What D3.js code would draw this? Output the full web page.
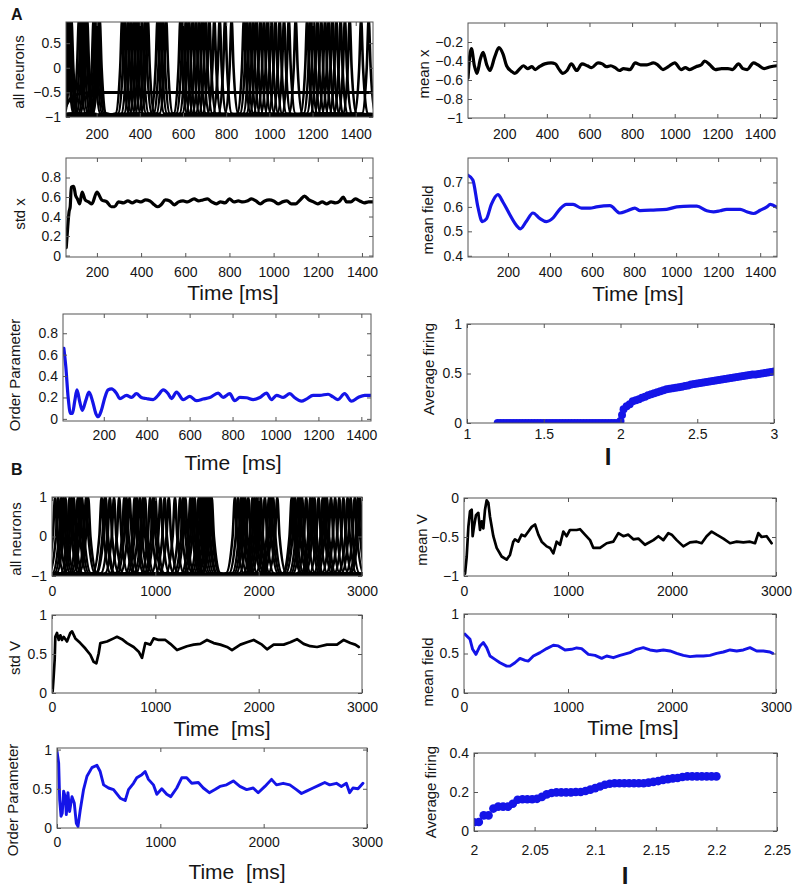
<!DOCTYPE html>
<html><head><meta charset="utf-8">
<script src="https://cdn.jsdelivr.net/npm/d3@7"></script>
<style>
body{margin:0;background:#fff;}
svg text{font-family:"Liberation Sans",Arial,Helvetica,sans-serif;fill:#151515;}
.tick text{font-size:14px;}
.ylab{font-size:15px;}
.xlab{font-size:21px;}
.ilab{font-size:24px;font-weight:bold;}
.plab{font-size:16px;font-weight:bold;}
</style></head><body>
<svg id="fig" width="798" height="890"></svg>
<script>
// ---------------- DATA ----------------
// Panel A: spike (peak) times of individual neurons, ms
const allNeuronsA = [
  [62, 318, 588, 882, 1175],
  [68, 330, 600, 895, 1190],
  [76, 345, 615, 910, 1205],
  [83, 358, 628, 925, 1222],
  [118, 372, 645, 940, 1240],
  [128, 385, 660, 958, 1258],
  [138, 398, 675, 975, 1275],
  [148, 410, 690, 992, 1292],
  [156, 425, 705, 1010, 1310],
  [186, 437, 722, 1028, 1330],
  [195, 482, 745, 1048, 1350],
  [203, 495, 770, 1068, 1372],
  [210, 508, 795, 1090, 1425],
  [214, 522, 825, 1122, 1460]
];
const restingA_t = [58, 70, 80, 100, 130, 200, 1480];
const restingA_v = [-0.78, -0.68, -0.62, -0.56, -0.52, -0.5, -0.5];

const meanXA_t = [30,38,46,60,72,88,101,118,133,155,175,195,211,235,250,270,290,310,330,345,365,390,420,440,455,475,495,515,540,565,590,610,640,660,680,700,720,740,760,790,815,840,870,900,920,945,970,1000,1030,1050,1070,1100,1125,1140,1165,1190,1220,1250,1270,1300,1320,1340,1370,1390,1420,1450,1480];
const meanXA_v = [-0.58,-0.35,-0.27,-0.45,-0.53,-0.38,-0.31,-0.44,-0.5,-0.36,-0.26,-0.33,-0.45,-0.51,-0.53,-0.49,-0.45,-0.48,-0.46,-0.49,-0.46,-0.43,-0.42,-0.43,-0.48,-0.53,-0.5,-0.43,-0.5,-0.43,-0.45,-0.47,-0.42,-0.43,-0.46,-0.45,-0.47,-0.5,-0.48,-0.49,-0.42,-0.44,-0.44,-0.42,-0.44,-0.49,-0.46,-0.42,-0.49,-0.47,-0.49,-0.46,-0.44,-0.4,-0.44,-0.49,-0.48,-0.48,-0.49,-0.43,-0.48,-0.49,-0.42,-0.44,-0.48,-0.46,-0.45];

const stdXA_t = [61,68,74,79,84,95,103,112,122,133,147,162,177,200,222,245,265,280,298,320,340,360,380,400,420,440,460,475,490,510,530,550,570,590,610,640,660,680,700,720,740,760,780,800,820,840,860,880,900,920,940,960,980,1000,1020,1040,1060,1080,1100,1120,1140,1160,1180,1200,1220,1240,1260,1280,1300,1315,1330,1350,1370,1390,1410,1430,1450];
const stdXA_v = [0.08,0.3,0.45,0.5,0.7,0.71,0.62,0.58,0.53,0.65,0.57,0.55,0.53,0.65,0.57,0.55,0.5,0.5,0.55,0.54,0.56,0.54,0.56,0.55,0.57,0.56,0.52,0.5,0.52,0.57,0.56,0.52,0.55,0.56,0.55,0.58,0.56,0.57,0.58,0.55,0.53,0.55,0.54,0.58,0.55,0.56,0.55,0.56,0.58,0.56,0.53,0.56,0.57,0.56,0.53,0.55,0.56,0.53,0.53,0.57,0.61,0.57,0.55,0.53,0.55,0.53,0.55,0.54,0.56,0.6,0.55,0.55,0.58,0.56,0.54,0.55,0.55];

const meanFieldA_t = [9,33,57,78,97,121,152,176,208,240,259,287,319,351,383,415,446,478,510,550,590,621,685,733,765,804,828,892,955,1003,1067,1099,1146,1178,1209,1241,1305,1336,1368,1400,1432,1448,1480];
const meanFieldA_v = [0.73,0.71,0.6,0.54,0.55,0.61,0.65,0.62,0.57,0.525,0.51,0.54,0.575,0.553,0.54,0.555,0.59,0.61,0.61,0.595,0.595,0.6,0.605,0.575,0.583,0.595,0.585,0.587,0.59,0.6,0.603,0.603,0.584,0.58,0.584,0.59,0.59,0.58,0.573,0.586,0.6,0.61,0.598];

const orderA_t = [14,23,34,45,54,65,75,88,100,116,131,147,163,174,189,205,220,236,259,275,306,329,352,375,398,430,453,477,500,516,539,570,601,632,663,694,733,756,787,810,834,865,896,927,958,981,1005,1036,1067,1090,1121,1144,1175,1206,1245,1268,1291,1322,1354,1385,1416,1442];
const orderA_v = [0.66,0.49,0.2,0.05,0.05,0.17,0.27,0.16,0.08,0.17,0.25,0.17,0.05,0.02,0.08,0.2,0.27,0.28,0.24,0.19,0.22,0.2,0.235,0.2,0.19,0.18,0.22,0.27,0.235,0.19,0.25,0.18,0.21,0.17,0.185,0.2,0.24,0.2,0.235,0.17,0.2,0.197,0.18,0.2,0.24,0.18,0.22,0.2,0.235,0.197,0.165,0.185,0.22,0.22,0.23,0.205,0.18,0.235,0.165,0.2,0.22,0.22];

const firingA_I = [1.2,1.22,1.24,1.26,1.28,1.3,1.32,1.34,1.36,1.38,1.4,1.42,1.44,1.46,1.48,1.5,1.52,1.54,1.56,1.58,1.6,1.62,1.64,1.66,1.68,1.7,1.72,1.74,1.76,1.78,1.8,1.82,1.84,1.86,1.88,1.9,1.92,1.94,1.96,1.98,
  2.0,2.01,2.02,2.04,2.06,2.08,2.1,2.12,2.14,2.16,2.18,2.2,2.22,2.24,2.26,2.28,2.3,2.32,2.34,2.36,2.38,2.4,2.42,2.44,2.46,2.48,2.5,2.52,2.54,2.56,2.58,2.6,2.62,2.64,2.66,2.68,2.7,2.72,2.74,2.76,2.78,2.8,2.82,2.84,2.86,2.88,2.9,2.92,2.94,2.96,2.98,3.0];
const firingA_r = [0,0,0,0,0,0,0,0,0,0,0,0,0,0,0,0,0,0,0,0,0,0,0,0,0,0,0,0,0,0,0,0,0,0,0,0,0,0,0,0,
  0.02,0.08,0.14,0.17,0.19,0.22,0.23,0.24,0.255,0.265,0.28,0.29,0.3,0.31,0.32,0.33,0.34,0.345,0.35,0.355,0.36,0.365,0.375,0.38,0.39,0.395,0.4,0.405,0.41,0.415,0.42,0.425,0.43,0.435,0.44,0.445,0.45,0.455,0.46,0.465,0.47,0.475,0.48,0.485,0.49,0.49,0.495,0.5,0.505,0.51,0.515,0.52];

// Panel B: spike (peak) times of individual neurons, ms
const allNeuronsB = [
  [30, 560, 1130, 1770, 2320, 2890],
  [60, 600, 1190, 1800, 2350, 2930],
  [90, 650, 1240, 1830, 2380, 2960],
  [130, 700, 1290, 1870, 2420],
  [170, 750, 1340, 1900, 2460],
  [210, 800, 1380, 1940, 2500],
  [250, 850, 1420, 1980, 2540],
  [290, 900, 1460, 2020, 2580],
  [330, 950, 1500, 2060, 2620],
  [480, 1000, 1530, 2100, 2660],
  [520, 1050, 1545, 2140, 2700],
  [350, 980, 1480, 2180, 2740],
  [110, 720, 1270, 1850, 2400, 2780],
  [190, 820, 1360, 1960, 2330, 2820],
  [510, 1090, 1510, 2120, 2520, 2860],
  [270, 880, 1440, 2000, 2640, 2980]
];

const meanVB_t = [10,26,42,58,74,83,96,115,138,154,170,186,202,218,234,250,282,314,362,410,442,474,490,522,554,586,619,651,683,715,747,795,827,859,891,923,955,987,1019,1083,1115,1163,1212,1244,1308,1372,1436,1484,1532,1580,1628,1676,1740,1821,1869,1917,1965,1997,2045,2109,2173,2237,2285,2333,2381,2429,2494,2558,2622,2686,2750,2798,2830,2862,2910,2958];
const meanVB_v = [-0.97,-0.75,-0.37,-0.17,-0.15,-0.49,-0.37,-0.22,-0.19,-0.41,-0.3,-0.39,-0.15,-0.03,-0.06,-0.24,-0.49,-0.64,-0.75,-0.79,-0.73,-0.56,-0.53,-0.56,-0.47,-0.49,-0.43,-0.37,-0.34,-0.47,-0.56,-0.62,-0.64,-0.71,-0.56,-0.6,-0.43,-0.49,-0.41,-0.41,-0.4,-0.47,-0.54,-0.64,-0.64,-0.58,-0.56,-0.45,-0.49,-0.47,-0.53,-0.52,-0.6,-0.54,-0.49,-0.54,-0.45,-0.47,-0.54,-0.62,-0.57,-0.56,-0.58,-0.49,-0.43,-0.47,-0.52,-0.58,-0.56,-0.57,-0.56,-0.58,-0.45,-0.5,-0.49,-0.58];

const stdVB_t = [6,16,26,32,48,65,81,97,113,145,177,194,226,274,323,371,403,429,452,468,532,597,629,677,726,790,839,871,903,952,984,1032,1097,1145,1210,1306,1371,1435,1500,1565,1629,1694,1742,1823,1887,1952,2032,2081,2145,2242,2306,2371,2435,2500,2565,2661,2758,2823,2887,2935,2968];
const stdVB_v = [0.02,0.21,0.43,0.72,0.77,0.68,0.74,0.68,0.72,0.66,0.77,0.79,0.7,0.64,0.57,0.49,0.4,0.38,0.51,0.64,0.66,0.7,0.72,0.69,0.64,0.59,0.53,0.45,0.64,0.62,0.7,0.68,0.68,0.63,0.55,0.6,0.62,0.63,0.68,0.64,0.62,0.59,0.55,0.62,0.65,0.68,0.62,0.56,0.62,0.62,0.65,0.69,0.63,0.6,0.59,0.62,0.62,0.68,0.64,0.62,0.59];

const meanFieldB_t = [10,58,83,115,154,186,218,250,298,346,410,442,490,538,587,619,667,731,795,859,907,971,1035,1083,1131,1196,1260,1324,1372,1436,1500,1596,1660,1724,1788,1853,1917,1981,2045,2109,2173,2237,2301,2365,2429,2494,2558,2622,2686,2750,2814,2878,2942,2968];
const meanFieldB_v = [0.745,0.68,0.553,0.489,0.596,0.638,0.574,0.468,0.426,0.383,0.34,0.34,0.383,0.438,0.413,0.404,0.468,0.511,0.562,0.604,0.596,0.545,0.553,0.57,0.562,0.489,0.477,0.438,0.468,0.447,0.477,0.511,0.553,0.574,0.545,0.532,0.545,0.532,0.502,0.477,0.46,0.468,0.468,0.477,0.502,0.519,0.545,0.532,0.545,0.574,0.532,0.532,0.519,0.502];

const orderB_t = [0,16,26,39,51,64,80,90,106,122,145,167,187,203,225,257,290,338,386,418,451,499,547,612,660,692,740,772,821,853,885,933,966,1014,1062,1101,1159,1207,1255,1304,1368,1416,1474,1529,1577,1641,1706,1770,1835,1899,1947,2012,2076,2124,2189,2253,2317,2366,2414,2478,2543,2591,2639,2704,2752,2800,2832,2864,2913,2961];
const orderB_v = [0.98,0.83,0.36,0.15,0.19,0.47,0.4,0.17,0.45,0.21,0.4,0.32,0.06,0.02,0.23,0.49,0.66,0.77,0.8,0.72,0.55,0.51,0.49,0.38,0.35,0.49,0.57,0.64,0.68,0.72,0.62,0.55,0.43,0.5,0.43,0.4,0.51,0.64,0.64,0.57,0.58,0.51,0.45,0.49,0.53,0.55,0.6,0.53,0.49,0.51,0.45,0.53,0.62,0.55,0.57,0.55,0.49,0.44,0.47,0.51,0.55,0.58,0.55,0.57,0.53,0.57,0.45,0.51,0.5,0.57];

const firingB_I = [2.0,2.004,2.008,2.012,2.016,2.02,2.024,2.028,2.032,2.036,2.04,2.044,2.048,2.052,2.056,2.06,2.064,2.068,2.072,2.076,2.08,2.084,2.088,2.092,2.096,2.1,2.104,2.108,2.112,2.116,2.12,2.124,2.128,2.132,2.136,2.14,2.144,2.148,2.152,2.156,2.16,2.164,2.168,2.172,2.176,2.18,2.184,2.188,2.192,2.196,2.2];
const firingB_r = [0.045,0.046,0.08,0.08,0.115,0.125,0.125,0.125,0.14,0.16,0.163,0.163,0.163,0.165,0.175,0.188,0.195,0.198,0.198,0.198,0.198,0.2,0.2,0.205,0.212,0.22,0.228,0.237,0.242,0.245,0.245,0.245,0.245,0.245,0.245,0.245,0.248,0.252,0.256,0.262,0.266,0.27,0.272,0.277,0.28,0.28,0.28,0.28,0.28,0.28,0.28];

// tick values
const ticksTimeA = [200,400,600,800,1000,1200,1400];
const ticksTimeB = [0,1000,2000,3000];

// ---------------- DRAWING ----------------
const svg = d3.select("#fig");
const defs = svg.append("defs");
const fmt = v => (v < 0 ? "\u2212" : "") + Math.abs(v);
const BLUE = "#1414e8";

function panel(o) {
  const [l, t, r, b] = o.box;
  const x = d3.scaleLinear().domain(o.xd).range([l, r]);
  const y = d3.scaleLinear().domain(o.yd).range([b, t]);
  const g = svg.append("g");
  const cid = "clip" + o.id;
  defs.append("clipPath").attr("id", cid).append("rect")
    .attr("x", l).attr("y", t).attr("width", r - l).attr("height", b - t);
  const plot = g.append("g").attr("clip-path", `url(#${cid})`);
  const axes = g.append("g");
  const mk = (gen, tr, vals, show, pad) => {
    const a = axes.append("g").attr("transform", tr)
      .call(gen.tickValues(vals).tickSizeInner(-4).tickSizeOuter(0).tickPadding(pad)
        .tickFormat(show ? fmt : () => ""));
    a.attr("font-family", null).attr("font-size", null);
    a.select(".domain").remove();
    a.selectAll(".tick line").attr("stroke", "#555");
  };
  mk(d3.axisBottom(x), `translate(0,${b})`, o.xt, true, o.xpad || 10);
  mk(d3.axisTop(x), `translate(0,${t})`, o.xt, false, 0);
  mk(d3.axisLeft(y), `translate(${l},0)`, o.yt, true, 5);
  mk(d3.axisRight(y), `translate(${r},0)`, o.yt, false, 0);
  axes.append("rect").attr("x", l).attr("y", t).attr("width", r - l).attr("height", b - t)
    .attr("fill", "none").attr("stroke", "#555").attr("stroke-width", 1);
  svg.append("text").attr("class", "ylab")
    .attr("x", o.yl[0]).attr("y", o.yl[1])
    .attr("text-anchor", "middle").attr("dominant-baseline", "central")
    .attr("transform", `rotate(-90,${o.yl[0]},${o.yl[1]})`).text(o.ylabel);
  return { x, y, plot };
}

function drawLine(p, ts, vs, color, w, smooth) {
  const line = d3.line().x(d => p.x(d[0])).y(d => p.y(d[1]))
    .curve(smooth ? d3.curveMonotoneX : d3.curveLinear);
  p.plot.append("path").datum(d3.zip(ts, vs)).attr("d", line)
    .attr("fill", "none").attr("stroke", color).attr("stroke-width", w)
    .attr("stroke-linejoin", "round").attr("stroke-linecap", "round");
}

function drawDots(p, xs, ys, color, rad) {
  p.plot.selectAll(null).data(d3.zip(xs, ys)).join("circle")
    .attr("cx", d => p.x(d[0])).attr("cy", d => p.y(d[1])).attr("r", rad).attr("fill", color);
}

// neuron traces built from spike times: each neuron rests near -1 and makes an
// excursion through the top of the range at each of its spike times
function drawNeurons(p, trains, t0, t1, hw, hw2, w) {
  const line = d3.line().x(d => p.x(d[0])).y(d => p.y(d[1])).curve(d3.curveMonotoneX);
  trains.forEach(sp => {
    const pts = [[t0 - 400, -1]];
    sp.forEach((s, i) => {
      if (i > 0) pts.push([(sp[i - 1] + s) / 2, -1]);
      pts.push([s - hw2, -0.93], [s - hw, 0], [s, 1.0], [s + hw, 0], [s + hw2, -0.93]);
    });
    pts.push([t1 + 400, -1]);
    p.plot.append("path").attr("d", line(pts)).attr("fill", "none")
      .attr("stroke", "#000").attr("stroke-width", w);
  });
  p.plot.append("line").attr("x1", p.x(t0 - 200)).attr("x2", p.x(t1 + 200))
    .attr("y1", p.y(-1)).attr("y2", p.y(-1)).attr("stroke", "#000").attr("stroke-width", w + 2);
}

// ---- Panel A ----
const pA1 = panel({id: "A1", box: [66, 22, 373, 117], xd: [58, 1480], yd: [-1, 0.93], xt: ticksTimeA, yt: [-1, -0.5, 0, 0.5], xpad: 12, ylabel: "all neurons", yl: [18.5, 72]});
drawNeurons(pA1, allNeuronsA, 58, 1480, 9, 30, 2.6);
drawLine(pA1, restingA_t, restingA_v, "#000", 3, true);

const pA2 = panel({id: "A2", box: [468, 23, 777, 118], xd: [30, 1480], yd: [-1, 0], xt: ticksTimeA, yt: [-1, -0.8, -0.6, -0.4, -0.2], xpad: 11, ylabel: "mean x", yl: [423, 74]});
drawLine(pA2, meanXA_t, meanXA_v, "#000", 3.2, true);

const pA3 = panel({id: "A3", box: [66, 158, 373, 257], xd: [60, 1450], yd: [-0.015, 1], xt: ticksTimeA, yt: [0, 0.2, 0.4, 0.6, 0.8], xpad: 10, ylabel: "std x", yl: [19, 214]});
drawLine(pA3, stdXA_t, stdXA_v, "#000", 3.2, true);

const pA4 = panel({id: "A4", box: [468, 158, 777, 257], xd: [10, 1480], yd: [0.395, 0.8], xt: ticksTimeA, yt: [0.4, 0.5, 0.6, 0.7], xpad: 10, ylabel: "mean field", yl: [427.5, 220]});
drawLine(pA4, meanFieldA_t, meanFieldA_v, BLUE, 3.2, true);

const pA5 = panel({id: "A5", box: [63, 314, 371, 421], xd: [10, 1445], yd: [-0.02, 0.98], xt: ticksTimeA, yt: [0, 0.2, 0.4, 0.6, 0.8], xpad: 9, ylabel: "Order Parameter", yl: [14, 375]});
drawLine(pA5, orderA_t, orderA_v, BLUE, 3.2, true);

const pA6 = panel({id: "A6", box: [467, 324, 774, 423], xd: [1, 3], yd: [0, 1], xt: [1, 1.5, 2, 2.5, 3], yt: [0, 0.5, 1], xpad: 6, ylabel: "Average firing", yl: [428, 369]});
drawDots(pA6, firingA_I, firingA_r, BLUE, 4);

// ---- Panel B ----
const pB1 = panel({id: "B1", box: [52, 497, 362, 576], xd: [0, 3000], yd: [-1, 1], xt: ticksTimeB, yt: [-1, 0, 1], xpad: 10, ylabel: "all neurons", yl: [15, 539]});
drawNeurons(pB1, allNeuronsB, 0, 3000, 22, 85, 2.6);

const pB2 = panel({id: "B2", box: [464, 498, 776, 576], xd: [0, 3000], yd: [-1, 0], xt: ticksTimeB, yt: [-1, -0.5, 0], xpad: 10, ylabel: "mean V", yl: [421, 540]});
drawLine(pB2, meanVB_t, meanVB_v, "#000", 2.7, false);

const pB3 = panel({id: "B3", box: [52, 615, 362, 693], xd: [0, 3000], yd: [0, 1], xt: ticksTimeB, yt: [0, 0.5, 1], xpad: 9, ylabel: "std V", yl: [14, 658]});
drawLine(pB3, stdVB_t, stdVB_v, "#000", 2.7, false);

const pB4 = panel({id: "B4", box: [464, 614, 776, 693], xd: [0, 3000], yd: [0, 1], xt: ticksTimeB, yt: [0, 0.5, 1], xpad: 9, ylabel: "mean field", yl: [427, 672]});
drawLine(pB4, meanFieldB_t, meanFieldB_v, BLUE, 2.9, false);

const pB5 = panel({id: "B5", box: [57, 748, 367, 828], xd: [0, 3000], yd: [0, 1.02], xt: ticksTimeB, yt: [0, 0.5, 1], xpad: 9, ylabel: "Order Parameter", yl: [12.5, 800]});
drawLine(pB5, orderB_t, orderB_v, BLUE, 2.9, false);

const pB6 = panel({id: "B6", box: [474, 753, 777, 831], xd: [2, 2.25], yd: [0, 0.4], xt: [2, 2.05, 2.1, 2.15, 2.2, 2.25], yt: [0, 0.2, 0.4], xpad: 14, ylabel: "Average firing", yl: [430, 792]});
drawDots(pB6, firingB_I, firingB_r, BLUE, 4.3);

// ---- axis titles & panel letters ----
const xt = (x, y, s, cls) => svg.append("text").attr("class", cls).attr("x", x).attr("y", y)
  .attr("text-anchor", "middle").attr("xml:space", "preserve").style("white-space", "pre").text(s);
xt(233, 300, "Time [ms]", "xlab");
xt(638, 301, "Time [ms]", "xlab");
xt(233, 470, "Time  [ms]", "xlab");
xt(608, 465, "I", "ilab");
xt(222, 736, "Time  [ms]", "xlab");
xt(633, 735, "Time [ms]", "xlab");
xt(237, 879, "Time  [ms]", "xlab");
xt(625, 884, "I", "ilab");
svg.append("text").attr("class", "plab").attr("x", 11).attr("y", 20).text("A");
svg.append("text").attr("class", "plab").attr("x", 11).attr("y", 475).text("B");
</script>
</body></html>
